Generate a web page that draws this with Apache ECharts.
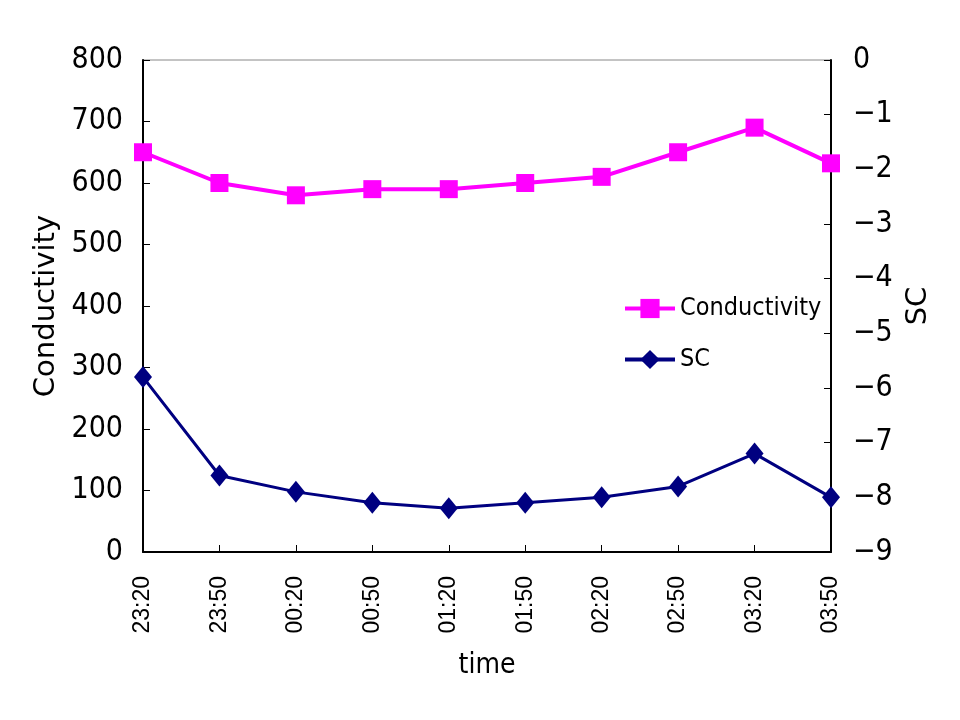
<!DOCTYPE html>
<html>
<head>
<meta charset="utf-8">
<script src="https://cdn.jsdelivr.net/npm/echarts@6/dist/echarts.min.js"></script>
<style>html,body{margin:0;padding:0;background:#fff;}#c{width:960px;height:720px;}</style>
</head>
<body>
<div id="c"></div>
<script>
const times = ['23:20','23:50','00:20','00:50','01:20','01:50','02:20','02:50','03:20','03:50'];
const conductivity = [650, 600, 580, 590, 590, 600, 610, 650, 690, 632];
const sc = [-5.8, -7.6, -7.9, -8.1, -8.2, -8.1, -8.0, -7.8, -7.2, -8.0];

const narrow = "'Liberation Sans Narrow','DejaVu Sans Condensed',sans-serif";
const chart = echarts.init(document.getElementById('c'));
chart.setOption({
  animation: false,
  backgroundColor: '#fff',
  grid: {left: 143, right: 129, top: 60, bottom: 168, show: true, borderColor: '#888', borderWidth: 1},
  legend: {
    orient: 'vertical', left: 618, top: 291, itemWidth: 50, itemHeight: 24, itemGap: 26,
    lineStyle: {width: 4},
    textStyle: {fontFamily: narrow, fontSize: 25, color: '#000'},
    data: ['Conductivity', 'SC']
  },
  xAxis: {
    type: 'category', data: times, boundaryGap: false,
    name: 'time', nameLocation: 'middle', nameGap: 100,
    nameTextStyle: {fontFamily: narrow, fontSize: 28, color: '#000'},
    axisLine: {show: true, lineStyle: {color: '#000', width: 2}},
    axisTick: {show: true, inside: true, length: 7, interval: 0, lineStyle: {color: '#000'}},
    axisLabel: {rotate: 90, interval: 0, margin: 24, fontFamily: "'Liberation Sans',sans-serif", fontSize: 23, color: '#000'},
    splitLine: {show: false}
  },
  yAxis: [{
    type: 'value', min: 0, max: 800, interval: 100, position: 'left',
    name: 'Conductivity', nameLocation: 'middle', nameGap: 82, nameRotate: 90,
    nameTextStyle: {fontFamily: "'DejaVu Sans',sans-serif", fontSize: 29, color: '#000'},
    axisLine: {show: true, lineStyle: {color: '#000', width: 2}},
    axisTick: {show: true, inside: true, length: 7, lineStyle: {color: '#000'}},
    axisLabel: {margin: 20, fontFamily: narrow, fontSize: 30, color: '#000'},
    splitLine: {show: false}
  }, {
    type: 'value', min: -9, max: 0, interval: 1, position: 'right',
    name: 'SC', nameLocation: 'middle', nameGap: 68, nameRotate: 90,
    nameTextStyle: {fontFamily: "'DejaVu Sans',sans-serif", fontSize: 29, color: '#000'},
    axisLine: {show: true, lineStyle: {color: '#000', width: 2}},
    axisTick: {show: true, inside: true, length: 7, lineStyle: {color: '#000'}},
    axisLabel: {margin: 22, fontFamily: narrow, fontSize: 30, color: '#000',
      formatter: v => String(v).replace('-', '\u2212')},
    splitLine: {show: false}
  }],
  series: [{
    name: 'Conductivity', type: 'line', yAxisIndex: 0, data: conductivity,
    symbol: 'rect', symbolSize: 18,
    lineStyle: {color: '#ff00ff', width: 4},
    itemStyle: {color: '#ff00ff'}
  }, {
    name: 'SC', type: 'line', yAxisIndex: 1, data: sc,
    symbol: 'diamond', symbolSize: [18, 22],
    lineStyle: {color: '#000080', width: 3},
    itemStyle: {color: '#000080'}
  }]
});
</script>
</body>
</html>
